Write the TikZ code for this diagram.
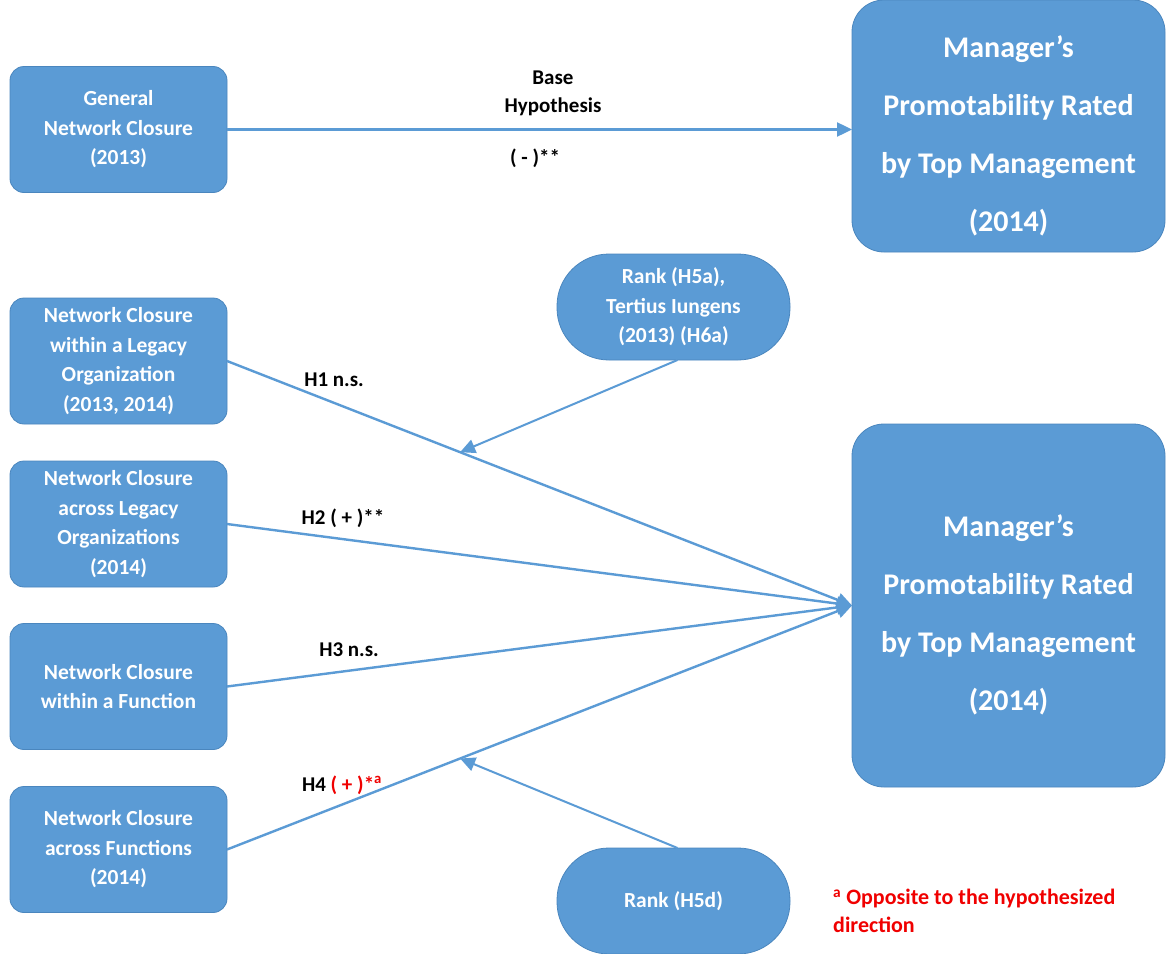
\documentclass[tikz,border=0pt]{standalone}
\usepackage{fontspec}
\setmainfont{Carlito}
\usetikzlibrary{arrows.meta,calc}
\definecolor{boxblue}{HTML}{5B9BD5}
\definecolor{boxedge}{HTML}{4A86BE}
\definecolor{notered}{HTML}{F00000}
\tikzset{
  box/.style={rectangle,rounded corners=14pt,fill=boxblue,draw=boxedge,line width=0.8pt,
    text=white,font=\bfseries\fontsize{21.5}{29.5}\selectfont,align=center,
    minimum width=217pt,minimum height=126pt,outer sep=0pt,inner sep=2pt},
  outcome/.style={box,rounded corners=32pt,font=\bfseries\fontsize{30}{58}\selectfont,
    minimum width=313pt},
  moder/.style={box,rounded corners=52pt,minimum width=233pt,minimum height=106pt},
  lbl/.style={font=\bfseries\fontsize{21}{28}\selectfont,align=center,inner sep=1pt},
  arr/.style={draw=boxblue,line width=2.4pt,-{Triangle[length=15pt,width=14pt]}}
}
\begin{document}
\begin{tikzpicture}[x=1pt,y=-1pt]
          \clip (0,0) rectangle (1167,953);
          \fill[white] (0,0) rectangle (1167,953);
          % Base model
          \node[box] (gen) at (118.5,129.5) {General\\Network Closure\\(2013)};
          \node[outcome,minimum height=252pt] (top) at (1008.5,126) {\rule{0pt}{42pt}Manager’s\\Promotability Rated\\by Top Management\\(2014)};
          % Closure types
          \node[box] (leg1) at (118.5,361) {Network Closure\\within a Legacy\\Organization\\(2013, 2014)};
          \node[box] (leg2) at (118.5,524) {Network Closure\\across Legacy\\Organizations\\(2014)};
          \node[box] (fnc1) at (118.5,686.5) {Network Closure\\within a Function};
          \node[box] (fnc2) at (118.5,849.5) {Network Closure\\across Functions\\(2014)};
          \node[outcome,minimum height=363pt] (out) at (1008.5,605.5) {\rule{0pt}{40pt}Manager’s\\Promotability Rated\\by Top Management\\(2014)};
          % Moderators
          \node[moder] (mod1) at (673.5,307) {Rank (H5a),\\Tertius Iungens\\(2013) (H6a)};
          \node[moder] (mod2) at (673.5,901) {Rank (H5d)};
          % Paths
          \draw[arr] (gen.east) -- (gen.east -| top.west);
          \draw[arr] (leg1.east) -- (out.west);
          \draw[arr] (leg2.east) -- (out.west);
          \draw[arr] (fnc1.east) -- (out.west);
          \draw[arr] (fnc2.east) -- (out.west);
          \coordinate (m1) at ($(leg1.east)!0.373!(out.west)$);
          \coordinate (m2) at ($(fnc2.east)!0.373!(out.west)$);
          \draw[arr,line width=2pt] ([xshift=4pt]mod1.south) -- (m1);
          \draw[arr,line width=2pt] ([xshift=4pt]mod2.north) -- (m2);
          % Labels
          \node[lbl] (base) at (553,93) {Base\\Hypothesis};
          \node[lbl] (bsig) at (535,158) {( - )**};
          \node[lbl] (h1) at (334,380) {H1 n.s.};
          \node[lbl] (h2) at (343,518) {H2 ( + )**};
          \node[lbl] (h3) at (349,650) {H3 n.s.};
          \node[lbl] (h4) at (342,785) {H4 \textcolor{notered}{( + )*\textsuperscript{a}}};
          \node[lbl,text=notered,anchor=west,align=left,font=\bfseries\fontsize{22}{28}\selectfont] (note) at (832,911) {\textsuperscript{a} Opposite to the hypothesized\\direction};
        \end{tikzpicture}
\end{document}
